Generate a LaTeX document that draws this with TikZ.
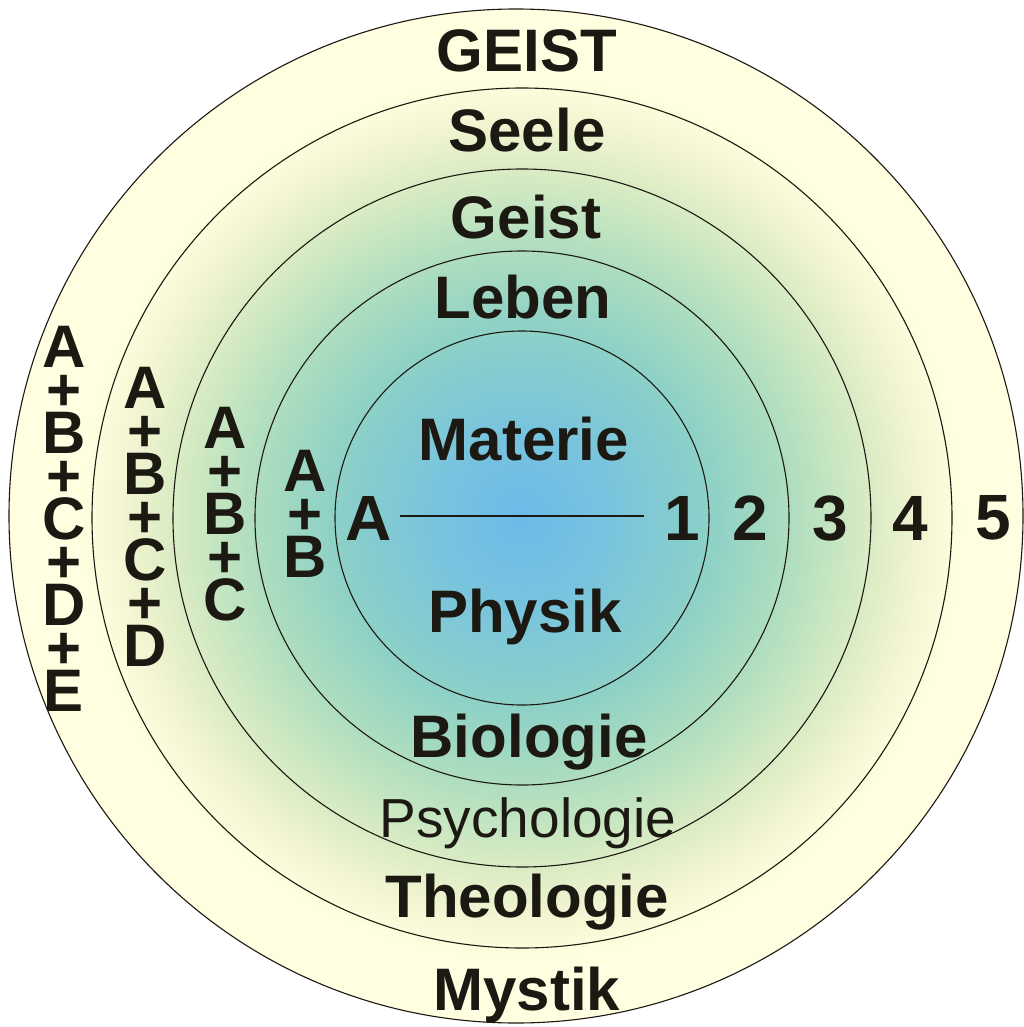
\documentclass[tikz,border=0pt]{standalone}
\usepackage{fontspec}
\setmainfont{Liberation Sans}
\definecolor{ink}{RGB}{28,24,18}
\definecolor{cream}{RGB}{255,254,224}
\definecolor{g0}{RGB}{108,186,234}
\definecolor{g1}{RGB}{120,196,222}
\definecolor{g2}{RGB}{140,208,200}
\definecolor{g3}{RGB}{172,221,190}
\definecolor{g4}{RGB}{218,236,196}
\definecolor{g5}{RGB}{246,246,212}
\pgfdeclareradialshading{glow}{\pgfpoint{0bp}{0bp}}{color(0bp)=(g0); color(5bp)=(g1); color(10.5bp)=(g2); color(15bp)=(g3); color(19.9bp)=(g4); color(23bp)=(g5); color(25bp)=(cream); color(50bp)=(cream)}
\begin{document}
\begin{tikzpicture}[x=1pt,y=-1pt,
  ring/.style={draw=ink,line width=1.1pt},
  lbl/.style={anchor=base,inner sep=0pt,text=ink,font=\fontsize{60}{60}\selectfont\bfseries},
  thin/.style={anchor=base,inner sep=0pt,text=ink,font=\fontsize{55}{55}\selectfont},
  num/.style={anchor=base,inner sep=0pt,text=ink,font=\fontsize{64}{64}\selectfont\bfseries},
  stk/.style={anchor=north,inner sep=0pt,align=center,text=ink,font=\fontsize{60}{43}\selectfont\bfseries}]
\useasboundingbox (0,0) rectangle (1023,1027);
\fill[white] (0,0) rectangle (1023,1027);
\fill[cream] (516,516) circle[radius=507pt];
\shade[shading=glow] (522,518) circle[radius=440pt];
\draw[ring] (516,516) circle[radius=507pt];
\foreach \r in {430,349,267,187} \draw[ring] (522,518) circle[radius=\r pt];

% top and bottom labels
\node[lbl] (geistA) at (527,72) {GEIST};
\node[lbl] (seele) at (527,152) {Seele};
\node[lbl] (geistB) at (526,238) {Geist};
\node[lbl] (leben) at (523,318) {Leben};
\node[lbl] (materie) at (524,460) {Materie};
\node[lbl] (physik) at (525,632) {Physik};
\node[lbl] (biologie) at (529,757) {Biologie};
\node[thin] (psych) at (528,837) {Psychologie};
\node[lbl] (theologie) at (527,917) {Theologie};
\node[lbl] (mystik) at (527,1010) {Mystik};

% numbers and centre line
\node[num] (n1) at (682,540) {1};
\node[num] (n2) at (750,540) {2};
\node[num] (n3) at (830,540) {3};
\node[num] (n4) at (910,540) {4};
\node[num] (n5) at (993,539) {5};
\node[num] (nA) at (369,540) {A};
\coordinate (lineL) at (400,516);
\coordinate (lineR) at (644,516);
\draw[draw=ink,line width=1.3pt] (lineL) -- (lineR);

% stacks
\node[stk] (stack5) at (64,326) {A\\+\\B\\+\\C\\+\\D\\+\\E};
\node[stk] (stack4) at (145,367) {A\\+\\B\\+\\C\\+\\D};
\node[stk] (stack3) at (225,407) {A\\+\\B\\+\\C};
\node[stk] (stack2) at (305,450) {A\\+\\B};
\end{tikzpicture}
\end{document}
